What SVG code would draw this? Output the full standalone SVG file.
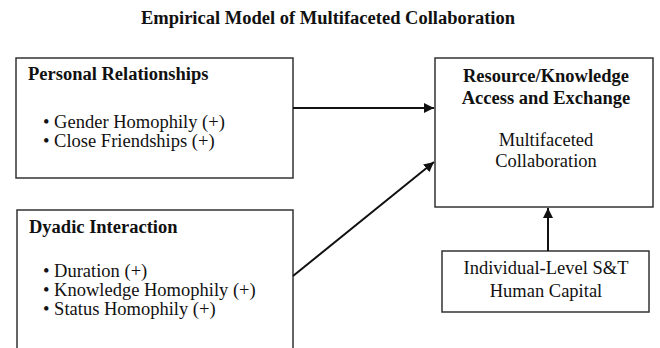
<svg xmlns="http://www.w3.org/2000/svg" width="660" height="348" viewBox="0 0 660 348">
<style>
text{font-family:"Liberation Serif","Times New Roman",serif;fill:#111}
.b{font-weight:bold;font-size:18.5px}
.t{font-size:18.5px}
.box{fill:#fff;stroke:#333;stroke-width:1.5}
.c{stroke:#111;stroke-width:2;fill:none;marker-end:url(#ah)}
</style>
<defs>
<marker id="ah" viewBox="0 0 10 10" refX="10" refY="5" markerWidth="5" markerHeight="5" orient="auto" markerUnits="strokeWidth">
<path d="M0,0 L10,5 L0,10 z" fill="#111"/>
</marker>
</defs>
<rect width="660" height="348" fill="#fff"/>
<text class="b" x="328" y="24" text-anchor="middle">Empirical Model of Multifaceted Collaboration</text>
<g id="personal">
<rect class="box" x="16" y="58" width="277" height="120"/>
<text class="b" x="28" y="80">Personal Relationships</text>
<text class="t" x="43" y="128">• Gender Homophily (+)</text>
<text class="t" x="43" y="147">• Close Friendships (+)</text>
</g>
<g id="dyadic">
<rect class="box" x="17" y="210" width="276" height="150"/>
<text class="b" x="29" y="233">Dyadic Interaction</text>
<text class="t" x="43" y="277">• Duration (+)</text>
<text class="t" x="43" y="296">• Knowledge Homophily (+)</text>
<text class="t" x="43" y="315">• Status Homophily (+)</text>
</g>
<g id="resource">
<rect class="box" x="435" y="58" width="218" height="149"/>
<text class="b" x="546" y="82" text-anchor="middle">Resource/Knowledge</text>
<text class="b" x="546" y="104" text-anchor="middle">Access and Exchange</text>
<text class="t" x="546" y="146" text-anchor="middle">Multifaceted</text>
<text class="t" x="546" y="167" text-anchor="middle">Collaboration</text>
</g>
<g id="humancapital">
<rect class="box" x="442" y="251" width="207" height="61"/>
<text class="t" x="546" y="274" text-anchor="middle">Individual-Level S&amp;T</text>
<text class="t" x="546" y="297" text-anchor="middle">Human Capital</text>
</g>
<g id="connectors">
<line class="c" x1="293" y1="108" x2="434" y2="108"/>
<line class="c" x1="293" y1="276" x2="434" y2="162"/>
<line class="c" x1="548" y1="251" x2="548" y2="208"/>
</g>
</svg>
